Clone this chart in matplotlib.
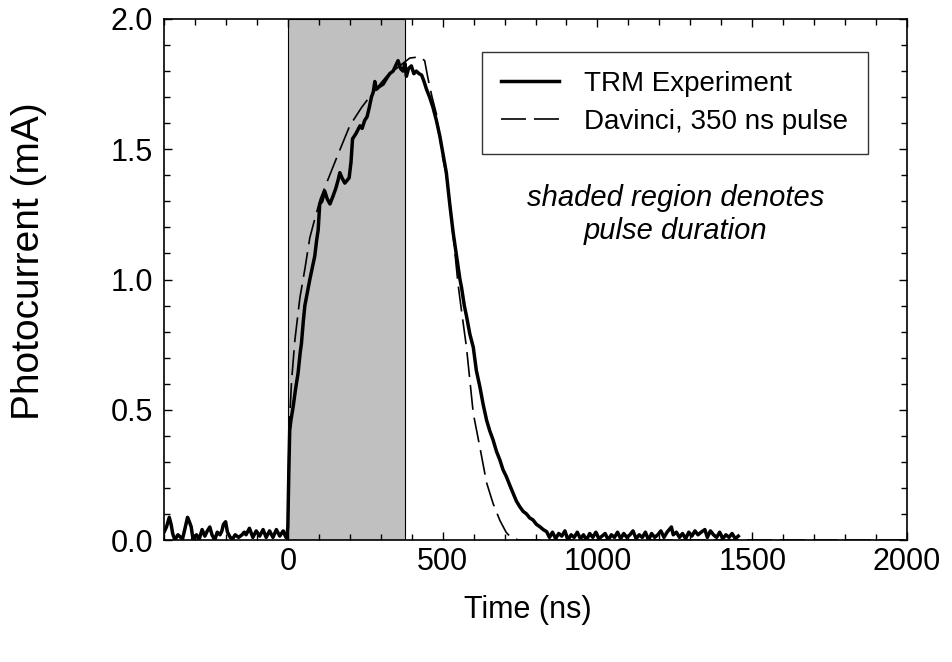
import matplotlib
matplotlib.use("Agg")
import matplotlib.pyplot as plt
from matplotlib.ticker import MultipleLocator, FormatStrFormatter

plt.rcParams['font.family'] = ['Liberation Sans', 'DejaVu Sans']

# TRM experiment (time in ns, photocurrent in mA)
trm_t = [-400, -392, -383, -377, -372, -365, -355, -346, -340, -333, -324, -318, -312,
         -306, -300, -295, -287, -277, -268, -260, -252, -245, -236, -228, -219, -213,
         -208, -201, -195, -186, -178, -170, -159, -148, -141, -135, -124, -113, -102,
         -91, -80, -70, -59, -48, -37, -26, -15, -6, -3,
         0, 3, 6, 10, 17, 25, 33, 40, 44, 50, 55, 63, 71, 80, 87, 93, 98, 103, 110,
         119, 127, 136, 146, 155, 162, 168, 175, 184, 191, 198, 204, 209, 220, 233,
         240, 248, 256, 263, 270, 276, 281, 286, 295, 308, 318, 329, 340, 348, 356,
         364, 372, 378, 383, 390, 399, 407, 415, 424, 432, 440, 448, 458, 469, 480,
         491, 500, 512, 523, 534, 545, 556, 561, 570, 577, 588, 599, 609, 620, 631,
         642, 652, 663, 674, 685, 695, 706, 717, 728, 738, 749, 760, 771, 781, 792,
         803, 814, 825, 836,
         845, 855, 865, 875, 885, 895, 905, 915, 925, 935, 945, 955, 965, 975, 985,
         995, 1005, 1015, 1025, 1035, 1045, 1055, 1065, 1075, 1085, 1095, 1105, 1115,
         1125, 1135, 1145, 1155, 1165, 1175, 1185, 1195, 1205, 1215, 1225, 1239, 1245,
         1255, 1265, 1275, 1285, 1295, 1305, 1315, 1325, 1335, 1347, 1355, 1365, 1375,
         1385, 1395, 1405, 1415, 1425, 1435, 1445, 1455]
trm_v = [0.03, 0.05, 0.087, 0.06, 0.025, 0.0, 0.02, 0.01, 0.005, 0.04, 0.087, 0.07, 0.05,
         0.0, 0.015, 0.02, 0.0, 0.04, 0.015, 0.035, 0.05, 0.02, 0.0, 0.03, 0.02, 0.035,
         0.06, 0.07, 0.03, 0.01, 0.005, 0.02, 0.01, 0.02, 0.03, 0.02, 0.045, 0.01, 0.035,
         0.015, 0.04, 0.01, 0.035, 0.01, 0.04, 0.015, 0.035, 0.01, 0.01,
         0.05, 0.25, 0.42, 0.46, 0.51, 0.58, 0.64, 0.72, 0.755, 0.84, 0.90, 0.95, 1.00,
         1.05, 1.09, 1.15, 1.19, 1.29, 1.30, 1.34, 1.31, 1.29, 1.32, 1.35, 1.38, 1.41,
         1.39, 1.37, 1.38, 1.39, 1.45, 1.54, 1.56, 1.59, 1.58, 1.61, 1.625, 1.66, 1.70,
         1.72, 1.76, 1.73, 1.74, 1.75, 1.77, 1.79, 1.80, 1.82, 1.84, 1.81, 1.80, 1.83,
         1.78, 1.81, 1.82, 1.79, 1.80, 1.79, 1.785, 1.76, 1.73, 1.70, 1.66, 1.61, 1.55,
         1.49, 1.41, 1.29, 1.18, 1.09, 1.00, 0.97, 0.90, 0.86, 0.79, 0.74, 0.65, 0.59,
         0.52, 0.46, 0.42, 0.384, 0.34, 0.307, 0.27, 0.243, 0.21, 0.179, 0.15, 0.128,
         0.11, 0.10, 0.085, 0.077, 0.06, 0.051, 0.04, 0.032,
         0.01, 0.03, 0.005, 0.025, 0.015, 0.035, 0.0, 0.02, 0.01, 0.03, 0.005, 0.02,
         0.0, 0.025, 0.01, 0.03, 0.005, 0.015, 0.025, 0.0, 0.02, 0.01, 0.03, 0.005,
         0.025, 0.01, 0.02, 0.035, 0.005, 0.02, 0.01, 0.03, 0.0, 0.025, 0.01, 0.02,
         0.035, 0.01, 0.03, 0.05, 0.02, 0.03, 0.01, 0.025, 0.005, 0.03, 0.015, 0.035,
         0.02, 0.03, 0.04, 0.01, 0.035, 0.02, 0.01, 0.03, 0.005, 0.02, 0.01, 0.025,
         0.005, 0.015]

# Davinci simulation, 350 ns pulse
dav_t = [-3, 0, 4, 12, 23, 39, 55, 71, 82, 105, 125, 162, 200, 238, 270, 319, 372,
         394, 426, 442, 453, 466, 480, 500, 512, 534, 550, 561, 577, 599, 620, 642,
         663, 685, 705, 720, 745, 2000]
dav_v = [0.0, 0.05, 0.42, 0.61, 0.77, 0.93, 1.04, 1.16, 1.21, 1.31, 1.37, 1.48, 1.59,
         1.66, 1.71, 1.78, 1.83, 1.85, 1.855, 1.84, 1.77, 1.70, 1.635, 1.47, 1.40, 1.17,
         0.98, 0.88, 0.74, 0.486, 0.358, 0.22, 0.14, 0.075, 0.03, 0.01, 0.0, 0.0]

pulse_start = 0
pulse_end = 380

fig = plt.figure(figsize=(9.52, 6.62), dpi=100)
ax = fig.add_axes([164 / 952, 1 - 540 / 662, 743 / 952, 521 / 662])

ax.axvspan(pulse_start, pulse_end, facecolor='#c0c0c0', edgecolor='black',
           linewidth=0.8, zorder=1)
ax.plot(dav_t, dav_v, color='black', linewidth=1.2, dashes=(15, 4.8),
        label='Davinci, 350 ns pulse', zorder=2)
ax.plot(trm_t, trm_v, color='black', linewidth=2.5, solid_joinstyle='round',
        label='TRM Experiment', zorder=3)

ax.set_xlim(-400, 2000)
ax.set_ylim(0, 2.0)
ax.xaxis.set_major_locator(MultipleLocator(500))
ax.xaxis.set_minor_locator(MultipleLocator(100))
ax.yaxis.set_major_locator(MultipleLocator(0.5))
ax.yaxis.set_minor_locator(MultipleLocator(0.1))
ax.yaxis.set_major_formatter(FormatStrFormatter('%.1f'))
ax.tick_params(which='both', direction='in', top=True, right=True, width=1.0,
               labelsize=22)
ax.tick_params(which='major', length=6, pad=8)
ax.tick_params(axis='x', which='major', pad=5)
ax.tick_params(which='minor', length=4)
for s in ax.spines.values():
    s.set_linewidth(1.2)

ax.set_xlabel('Time (ns)', fontsize=22, va='center')
ax.xaxis.set_label_coords(0.49, (540 - 610) / 521)
ax.set_ylabel('Photocurrent (mA)', fontsize=28, va='center')
ax.yaxis.set_label_coords((29 - 164) / 743, 0.535)

handles, labels = ax.get_legend_handles_labels()
leg = ax.legend(handles[::-1], labels[::-1], loc='upper left',
                bbox_to_anchor=((481.7 - 164) / 743, (540 - 51.7) / 521),
                fontsize=20, frameon=True, fancybox=False, handlelength=2.1,
                handletextpad=0.9, borderpad=0.7, labelspacing=0.42,
                borderaxespad=0)
leg.get_frame().set_edgecolor('black')
leg.get_frame().set_linewidth(1.0)

ax.text(1253, 1.25, 'shaded region denotes\npulse duration', fontsize=21,
        style='italic', ha='center', va='center', linespacing=1.2)

fig.savefig('out.png', dpi=100)
